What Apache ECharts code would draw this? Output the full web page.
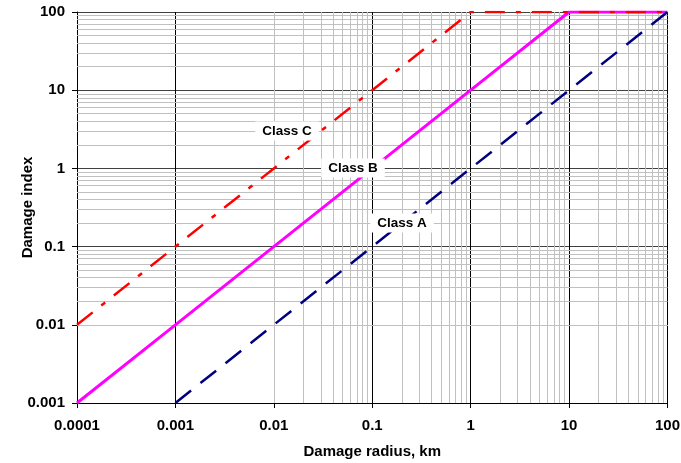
<!DOCTYPE html>
<html>
<head>
<meta charset="utf-8">
<title>Damage index vs damage radius</title>
<script src="https://cdn.jsdelivr.net/npm/echarts@6/dist/echarts.min.js"></script>
<style>
  html, body { margin: 0; padding: 0; background: #ffffff; }
  #chart { width: 681px; height: 463px; }
</style>
</head>
<body>
<div id="chart"></div>
<script>
// Damage radius (km) at each decade
const radius = [0.0001, 0.001, 0.01, 0.1, 1, 10, 100];
// Damage index for each class (null = not defined at that radius)
const classA = [null, 0.001, 0.01, 0.1, 1, 10, 100];
const classB = [0.001, 0.01, 0.1, 1, 10, 100, 100];
const classC = [0.01, 0.1, 1, 10, 100, 100, 100];

// Tick labels
const xTickLabels = ['0.0001', '0.001', '0.01', '0.1', '1', '10', '100'];
const yTickLabels = ['0.001', '0.01', '0.1', '1', '10', '100'];

// In-plot class labels and where they sit (radius, index)
const labelText = ['Class C', 'Class B', 'Class A'];
const labelRadius = [0.0136, 0.0635, 0.2];
const labelIndex = [3.0, 1.0, 0.2];

const FONT = '"Liberation Sans", Arial, sans-serif';

function pairs(ys) {
  const out = [];
  radius.forEach(function (x, i) {
    if (ys[i] != null) out.push([x, ys[i]]);
  });
  return out;
}

// Minor grid lines at 2..9 within each decade
function minorValues(fromExp, toExp) {
  const vals = [];
  for (let e = fromExp; e < toExp; e++) {
    for (let k = 2; k <= 9; k++) {
      vals.push(parseFloat((k * Math.pow(10, e)).toPrecision(6)));
    }
  }
  return vals;
}

const minorX = minorValues(-4, 2).map(function (v) { return { xAxis: v }; });
const minorY = minorValues(-3, 2).map(function (v) { return { yAxis: v }; });

const chart = echarts.init(document.getElementById('chart'), null, { renderer: 'canvas' });

const option = {
  animation: false,
  backgroundColor: '#ffffff',
  textStyle: { fontFamily: FONT },
  grid: {
    left: 77, right: 13.5, top: 12, bottom: 60,
    containLabel: false,
    outerBoundsMode: 'none'
  },
  xAxis: {
    type: 'log',
    logBase: 10,
    min: 0.0001,
    max: 100,
    z: 3,
    name: 'Damage radius, km',
    nameLocation: 'middle',
    nameGap: 41,
    nameMoveOverlap: false,
    nameTextStyle: { fontFamily: FONT, fontWeight: 'bold', fontSize: 15, color: '#000' },
    axisLine: { show: true, onZero: false, lineStyle: { color: '#000', width: 1 } },
    axisTick: { show: true, inside: false, length: 5, lineStyle: { color: '#000' } },
    axisLabel: {
      margin: 15,
      fontFamily: FONT, fontWeight: 'bold', fontSize: 15, color: '#000',
      formatter: function (v) {
        const i = Math.round(Math.log10(v)) + 4;
        return xTickLabels[i] !== undefined ? xTickLabels[i] : '';
      }
    },
    splitLine: { show: true, lineStyle: { color: '#000', width: 1 } },
    minorTick: { show: false },
    minorSplitLine: { show: false }
  },
  yAxis: {
    type: 'log',
    logBase: 10,
    min: 0.001,
    max: 100,
    z: 3,
    name: 'Damage index',
    nameLocation: 'middle',
    nameRotate: 90,
    nameGap: 42,
    nameMoveOverlap: false,
    nameTextStyle: { fontFamily: FONT, fontWeight: 'bold', fontSize: 15, color: '#000' },
    axisLine: { show: true, onZero: false, lineStyle: { color: '#000', width: 1 } },
    axisTick: { show: true, inside: false, length: 5, lineStyle: { color: '#000' } },
    axisLabel: {
      margin: 12,
      fontFamily: FONT, fontWeight: 'bold', fontSize: 15, color: '#000',
      formatter: function (v) {
        const i = Math.round(Math.log10(v)) + 3;
        return yTickLabels[i] !== undefined ? yTickLabels[i] : '';
      }
    },
    splitLine: { show: true, lineStyle: { color: '#404040', width: 1 } },
    minorTick: { show: false },
    minorSplitLine: { show: false }
  },
  series: [
    {
      // minor grid
      name: 'grid',
      type: 'line',
      data: [],
      z: 1,
      silent: true,
      markLine: {
        silent: true,
        symbol: 'none',
        label: { show: false },
        lineStyle: { color: '#c0c0c0', type: 'solid', width: 1 },
        emphasis: { disabled: true },
        data: minorX.concat(minorY)
      }
    },
    {
      name: 'Class B',
      type: 'line',
      data: pairs(classB),
      z: 5,
      showSymbol: false,
      symbol: 'none',
      lineStyle: { color: '#FF00FF', width: 3, type: 'solid' }
    },
    {
      name: 'Class A',
      type: 'line',
      data: pairs(classA),
      z: 6,
      showSymbol: false,
      symbol: 'none',
      lineStyle: { color: '#000080', width: 2.5, type: [20, 12] }
    },
    {
      name: 'Class C',
      type: 'line',
      data: pairs(classC),
      z: 7,
      showSymbol: false,
      symbol: 'none',
      lineStyle: { color: '#FF0000', width: 2.5, type: [20, 11, 5, 11] }
    }
  ]
};

chart.setOption(option);

// Class labels: placed at data coordinates, snapped to whole pixels for crisp text
const labelGraphics = labelText.map(function (t, i) {
  const p = chart.convertToPixel({ gridIndex: 0 }, [labelRadius[i], labelIndex[i]]);
  return {
    type: 'text',
    x: Math.round(p[0]),
    y: Math.round(p[1]),
    z: 100,
    silent: true,
    style: {
      text: t,
      fill: '#000000',
      font: 'bold 13.5px ' + FONT,
      align: 'center',
      verticalAlign: 'middle',
      backgroundColor: '#ffffff',
      padding: [3, 7, 2, 7]
    }
  };
});

chart.setOption({ graphic: { elements: labelGraphics } });
</script>
</body>
</html>
